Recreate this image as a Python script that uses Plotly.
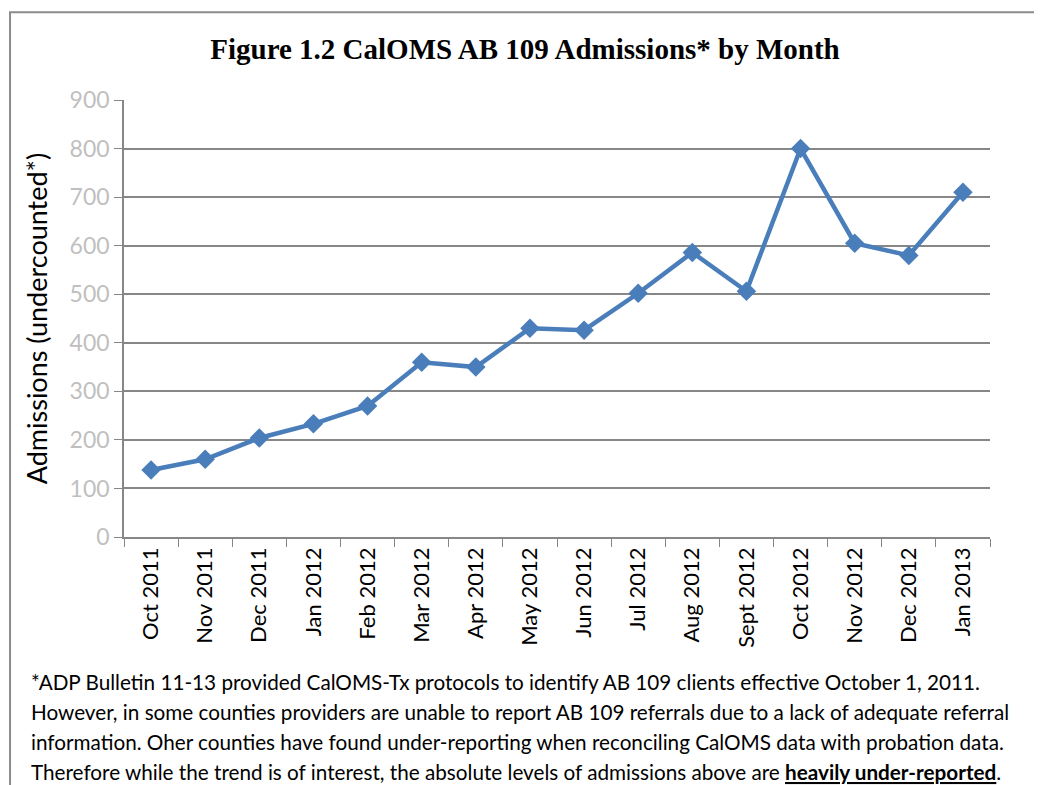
import plotly.graph_objects as go

months = ["Oct 2011", "Nov 2011", "Dec 2011", "Jan 2012", "Feb 2012", "Mar 2012",
          "Apr 2012", "May 2012", "Jun 2012", "Jul 2012", "Aug 2012", "Sept 2012",
          "Oct 2012", "Nov 2012", "Dec 2012", "Jan 2013"]
admissions = [138, 160, 204, 233, 270, 360, 350, 430, 426, 502, 586, 506,
              800, 605, 580, 710]

y_ticks = [0, 100, 200, 300, 400, 500, 600, 700, 800, 900]

footnote_lines = [
    "*ADP Bulletin 11-13 provided CalOMS-Tx protocols to identify AB 109 clients effective October 1, 2011.",
    "However, in some counties providers are unable to report AB 109 referrals due to a lack of adequate referral",
    "information. Oher counties have found under-reporting when reconciling CalOMS data with probation data.",
    "Therefore while the trend is of interest, the absolute levels of admissions above are "
    "<span style='text-decoration:underline'><b>heavily under-reported</b></span>.",
]

calibri = "Lato, Carlito, sans-serif"
grid_col = "#878787"

fig = go.Figure()
fig.add_trace(go.Scatter(
    x=months, y=admissions, mode="lines+markers",
    line=dict(color="#4a7ebb", width=4.5),
    marker=dict(symbol="diamond", size=15, color="#4a7ebb"),
    hoverinfo="x+y",
))

# page has an 8px body margin, so the figure is sized/margined to compensate
fig.update_layout(
    width=1034, height=777,
    margin=dict(l=116, r=52, t=92, b=248),
    paper_bgcolor="white", plot_bgcolor="white",
    showlegend=False,
    title=dict(text="<b>Figure 1.2 CalOMS AB 109 Admissions* by Month</b>",
               x=0.5, xanchor="center", y=0.947, yanchor="middle",
               font=dict(family="'Liberation Serif', 'Times New Roman', serif",
                         size=29, color="black")),
)

fig.update_xaxes(
    type="category", showgrid=False, showline=True, linecolor=grid_col, linewidth=1.5,
    ticks="outside", tickson="boundaries", ticklen=8, tickcolor=grid_col,
    tickangle=-90, tickfont=dict(family=calibri, size=22, color="black"),
    range=[-0.5, len(months) - 0.5],
)
fig.update_yaxes(
    range=[0, 900], tickvals=y_ticks, showgrid=True, gridcolor=grid_col, gridwidth=1.5,
    showline=True, linecolor=grid_col, linewidth=1.5, zeroline=False,
    ticks="outside", ticklen=8, tickcolor=grid_col,
    tickfont=dict(family=calibri, size=23, color="#bfbfbf"),
    title=dict(text="Admissions (undercounted*)", standoff=14,
               font=dict(family=calibri, size=27, color="black")),
)

# outer chart border
fig.add_shape(type="rect", xref="paper", yref="paper",
              x0=-0.1316, x1=1.08, y0=-0.6, y1=1.201,
              line=dict(color="#8c8c8c", width=2), layer="below")

for i, line in enumerate(footnote_lines):
    fig.add_annotation(text=line, xref="paper", yref="paper",
                       x=-0.110, xanchor="left",
                       y=-0.332 - i * 0.0686, yanchor="middle",
                       showarrow=False, align="left",
                       font=dict(family=calibri, size=20.7, color="black"))

fig.write_html("out.html")
